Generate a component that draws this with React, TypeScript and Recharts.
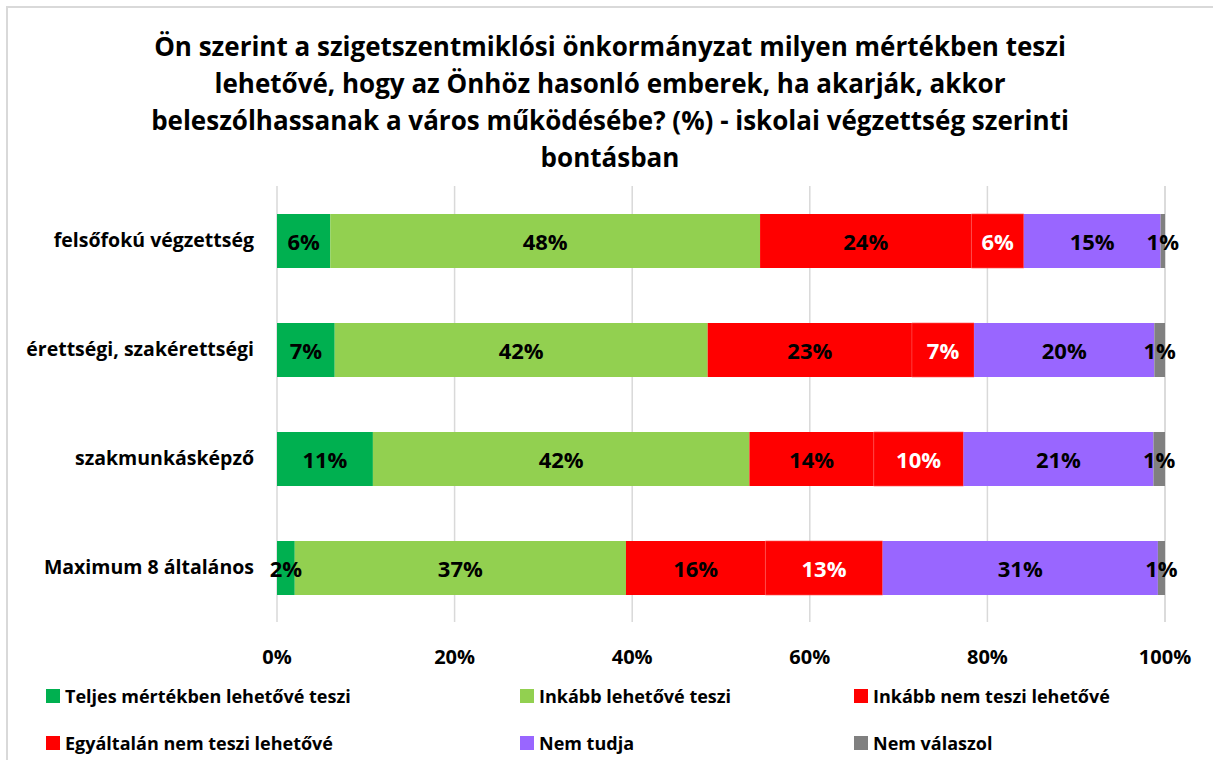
import React from 'react'
import { BarChart, Bar, XAxis, YAxis, CartesianGrid, LabelList } from 'recharts'

const categories = ['felsőfokú végzettség', 'érettségi, szakérettségi', 'szakmunkásképző', 'Maximum 8 általános']

// values (%), labels show them rounded
const teljes = [6.0, 6.5, 10.8, 2.0]
const inkabb = [48.4, 42.0, 42.4, 37.3]
const inkabbNem = [23.8, 23.0, 14.0, 15.7]
const egyaltalan = [5.9, 7.0, 10.1, 13.2]
const nemTudja = [15.4, 20.3, 21.4, 31.0]
const nemValaszol = [0.5, 1.2, 1.3, 0.8]

const xTicks = [0, 20, 40, 60, 80, 100]

const titleLines = [
  'Ön szerint a szigetszentmiklósi önkormányzat milyen mértékben teszi',
  'lehetővé, hogy az Önhöz hasonló emberek, ha akarják, akkor',
  'beleszólhassanak a város működésébe? (%) - iskolai végzettség szerinti',
  'bontásban',
]

const series = [
  { key: 'teljes', name: 'Teljes mértékben lehetővé teszi', color: '#00B050', text: '#000' },
  { key: 'inkabb', name: 'Inkább lehetővé teszi', color: '#92D050', text: '#000' },
  { key: 'inkabbNem', name: 'Inkább nem teszi lehetővé', color: '#FF0000', text: '#000' },
  { key: 'egyaltalan', name: 'Egyáltalán nem teszi lehetővé', color: '#FF0000', text: '#fff' },
  { key: 'nemTudja', name: 'Nem tudja', color: '#9966FF', text: '#000' },
  { key: 'nemValaszol', name: 'Nem válaszol', color: '#808080', text: '#000' },
]

const data = categories.map((c, i) => ({
  name: c,
  teljes: teljes[i],
  inkabb: inkabb[i],
  inkabbNem: inkabbNem[i],
  egyaltalan: egyaltalan[i],
  nemTudja: nemTudja[i],
  nemValaszol: nemValaszol[i],
}))

const FONT = '"Open Sans", Lato, sans-serif'

function makeLabel(fill: string) {
  return (props: any) => {
    const { x, y, width, height, value } = props
    return (
      <text
        x={x + width / 2}
        y={y + height / 2}
        textAnchor="middle"
        dominantBaseline="central"
        fill={fill}
        fontFamily={FONT}
        fontWeight={700}
        fontSize={22}
      >
        {Math.round(value)}%
      </text>
    )
  }
}

export default function App() {
  return (
    <div style={{ position: 'absolute', left: 0, top: 0, width: 1213, height: 760, background: '#fff', overflow: 'hidden', fontFamily: FONT }}>
      <div style={{ position: 'absolute', left: 6, top: 6, width: 1207, height: 754, borderLeft: '2px solid #d9d9d9', borderTop: '2px solid #d9d9d9' }} />
      <div style={{ position: 'absolute', left: 0, top: 28, width: 1220, textAlign: 'center', fontWeight: 700, fontSize: 26, lineHeight: '37px', color: '#000' }}>
        {titleLines.map((l) => (
          <div key={l}>{l}</div>
        ))}
      </div>
      <div style={{ position: 'absolute', left: 0, top: 0 }}>
        <BarChart
          width={1213}
          height={680}
          data={data}
          layout="vertical"
          margin={{ top: 186, right: 48, bottom: 0, left: 0 }}
        >
          <CartesianGrid horizontal={false} stroke="#d9d9d9" strokeWidth={1.5} />
          <XAxis
            type="number"
            domain={[0, 100]}
            ticks={xTicks}
            tickFormatter={(v) => `${v}%`}
            axisLine={false}
            tickLine={false}
            height={58}
            tick={{ fill: '#000', fontSize: 20, fontWeight: 700, fontFamily: FONT, dy: 20 }}
          />
          <YAxis
            type="category"
            dataKey="name"
            width={277}
            axisLine={false}
            tickLine={false}
            tick={{ fill: '#000', fontSize: 19.5, fontWeight: 700, fontFamily: FONT, dx: -15 }}
          />
          {series.map((s) => (
            <Bar
              key={s.key}
              dataKey={s.key}
              name={s.name}
              stackId="a"
              fill={s.color}
              barSize={54}
              stroke={s.key === 'egyaltalan' ? '#ff5050' : 'none'}
              strokeWidth={0.6}
              isAnimationActive={false}
            >
              <LabelList dataKey={s.key} content={makeLabel(s.text)} />
            </Bar>
          ))}
        </BarChart>
      </div>
      <div style={{ position: 'absolute', left: 46, top: 672, width: 1170 }}>
        {[0, 1].map((row) => (
          <div key={row} style={{ display: 'flex', height: 47, alignItems: 'center' }}>
            {series.slice(row * 3, row * 3 + 3).map((s, j) => (
              <div key={s.key} style={{ width: j === 0 ? 474 : j === 1 ? 334 : 360, display: 'flex', alignItems: 'center', fontWeight: 700, fontSize: 18 }}>
                <span style={{ display: 'inline-block', width: 14, height: 14, background: s.color, marginRight: 5 }} />
                <span>{s.name}</span>
              </div>
            ))}
          </div>
        ))}
      </div>
    </div>
  )
}
